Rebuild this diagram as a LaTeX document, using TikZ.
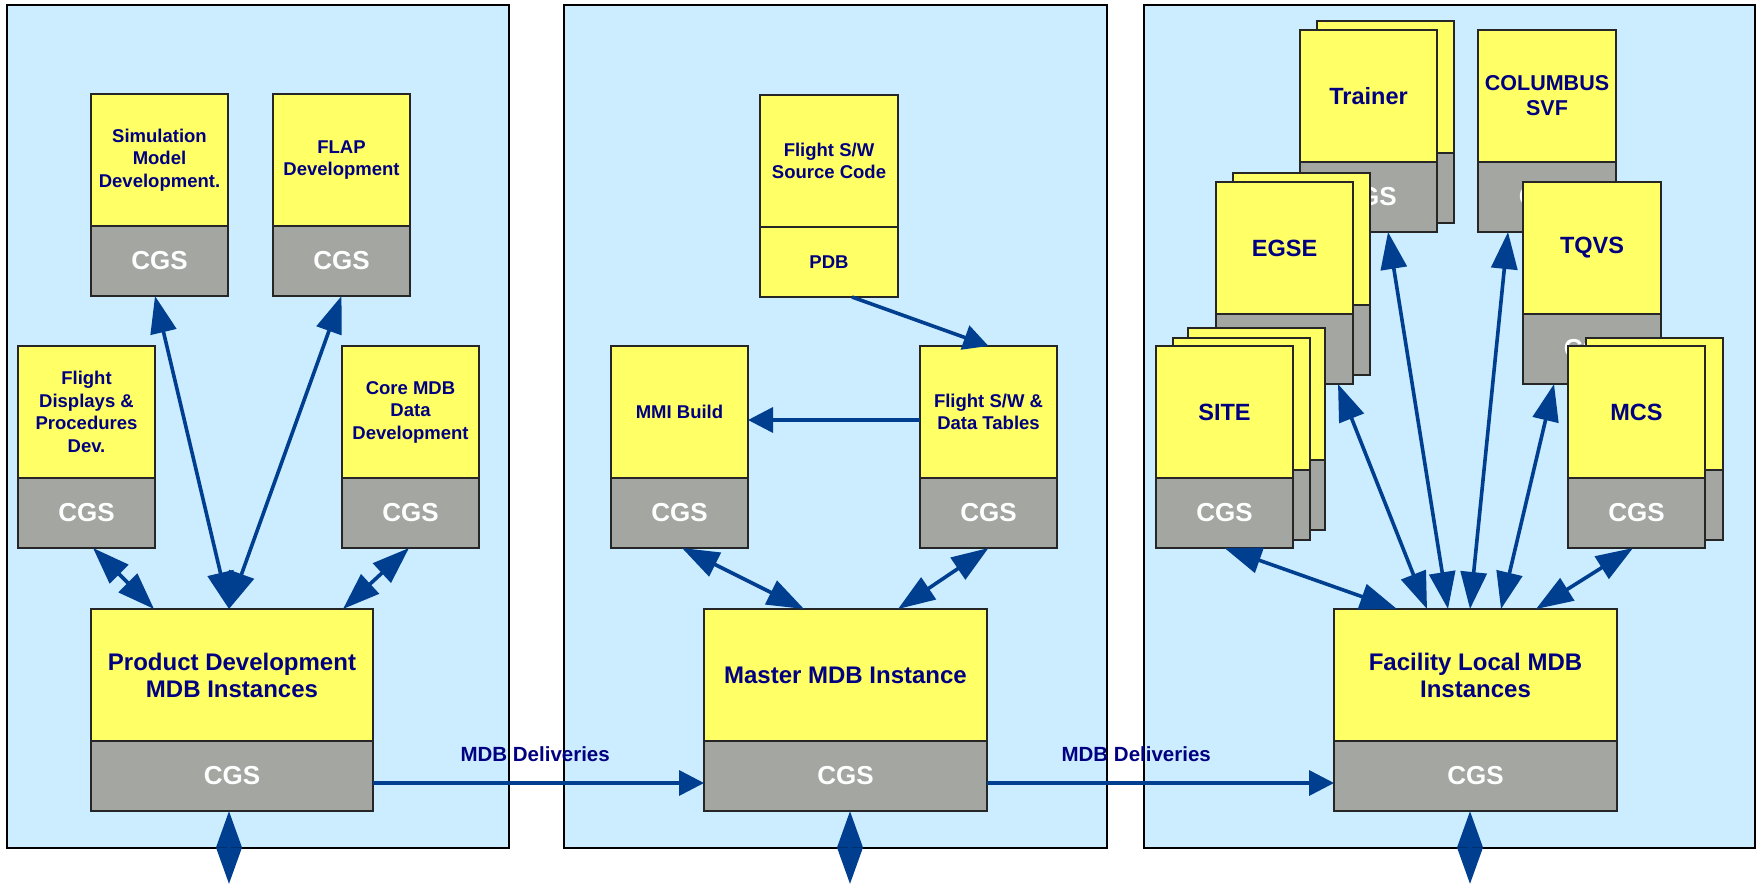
\documentclass[tikz,border=0pt]{standalone}
\usepackage{fontspec}
\setmainfont{Liberation Sans}
\usetikzlibrary{arrows.meta}
\definecolor{panelblue}{HTML}{CCECFF}
\definecolor{boxyellow}{HTML}{FFFF66}
\definecolor{boxgray}{HTML}{A3A6A1}
\definecolor{textnavy}{HTML}{000080}
\definecolor{arrowblue}{HTML}{003F8F}
\newcommand\fntS{\bfseries\fontsize{18.5}{22.5}\selectfont}
\newcommand\fntL{\bfseries\fontsize{24}{27}\selectfont}
\newcommand\fntF{\bfseries\fontsize{23.5}{27}\selectfont}
\newcommand\fntC{\bfseries\fontsize{21.5}{25}\selectfont}
\newcommand\fntD{\bfseries\fontsize{20.5}{24}\selectfont}
\tikzset{
  panel/.style={draw=black, line width=2pt, fill=panelblue, rectangle, inner sep=0pt, outer sep=0pt, anchor=north west},
  topbox/.style={draw=black!85, line width=1.2pt, fill=boxyellow, rectangle, inner sep=0pt, outer sep=0pt, minimum height=132pt, align=center, text=textnavy},
  cgsbox/.style={draw=black!85, line width=1.2pt, fill=boxgray, rectangle, inner sep=0pt, outer sep=0pt, minimum height=70pt, text=white, font=\bfseries\fontsize{26}{30}\selectfont},
  conn/.style={draw=arrowblue, fill=arrowblue, line width=3.6pt},
  dbl/.style={conn, arrows={Triangle[length=37pt,width=26pt]-Triangle[length=37pt,width=26pt]}},
  sgl/.style={conn, arrows={-Triangle[length=25pt,width=25pt]}},
  diam/.style={conn, arrows={Triangle[length=36.5pt,width=25pt]-Triangle[length=36.5pt,width=25pt]}},
  lbl/.style={text=textnavy, font=\fntD, inner sep=0pt},
}
% name, X, Y, W, font, text
\newcommand\unitbox[6]{%
  \node[topbox, font=#5, minimum width=#4pt, anchor=north west] (#1t) at (#2,#3) {#6};
  \node[cgsbox, minimum width=#4pt, anchor=north west] (#1b) at (#1t.south west) {CGS};}
% name, X, Y, W
\newcommand\ghostbox[4]{%
  \node[topbox, minimum width=#4pt, anchor=north west] (#1t) at (#2,#3) {};
  \node[cgsbox, minimum width=#4pt, anchor=north west] (#1b) at (#1t.south west) {};}
\begin{document}
\begin{tikzpicture}[x=1pt,y=-1pt]
\useasboundingbox (0,0) rectangle (1760,883);
\fill[white] (0,0) rectangle (1760,883);
% panels
\node[panel, minimum width=502pt, minimum height=843pt] (p1) at (7,5) {};
\node[panel, minimum width=543pt, minimum height=843pt] (p2) at (564,5) {};
\node[panel, minimum width=611pt, minimum height=843pt] (p3) at (1144,5) {};
% panel 1
\unitbox{sim}{91}{94}{137}{\fntS}{Simulation\\Model\\Development.}
\unitbox{flap}{273}{94}{137}{\fntS}{FLAP\\Development}
\unitbox{fd}{18}{346}{137}{\fntS}{Flight\\Displays \&\\Procedures\\Dev.}
\unitbox{core}{342}{346}{137}{\fntS}{Core MDB\\Data\\Development}
\unitbox{pd}{91}{609}{282}{\fntL}{Product Development\\MDB Instances}
% panel 2
\node[topbox, font=\fntS, minimum width=138pt, anchor=north west] (swt) at (760,95) {Flight S/W\\Source Code};
\node[topbox, font=\fntS, minimum width=138pt, minimum height=70pt, anchor=north west] (swb) at (swt.south west) {PDB};
\unitbox{mmi}{611}{346}{137}{\fntS}{MMI Build}
\unitbox{dt}{920}{346}{137}{\fntS}{Flight S/W \&\\Data Tables}
\unitbox{m}{704}{609}{283}{\fntL}{Master MDB Instance}
% panel 3
\ghostbox{trk}{1317}{21}{137}
\unitbox{tr}{1300}{30}{137}{\fntF}{Trainer}
\unitbox{col}{1478}{30}{138}{\fntC}{COLUMBUS\\SVF}
\ghostbox{egk}{1233}{173}{137}
\unitbox{egse}{1216}{182}{137}{\fntF}{EGSE}
\unitbox{tq}{1523}{182}{138}{\fntF}{TQVS}
\ghostbox{sitekk}{1188}{328}{137}
\ghostbox{sitek}{1173}{338}{137}
\unitbox{site}{1156}{346}{137}{\fntF}{SITE}
\ghostbox{mcsk}{1586}{338}{137}
\unitbox{mcs}{1568}{346}{137}{\fntF}{MCS}
\unitbox{f}{1334}{609}{283}{\fntL}{Facility Local MDB\\Instances}
% panel 1 connectors
\draw[dbl] ([xshift=6.5pt]fdb.south) -- ([xshift=63pt]pdt.north west);
\draw[dbl] ([xshift=-4.5pt]simb.south) -- ([xshift=-3pt]pdt.north);
\draw[dbl] (flapb.south) -- ([xshift=-3pt]pdt.north);
\draw[dbl] ([xshift=-1.5pt]coreb.south) -- ([xshift=-30pt]pdt.north east);
% panel 2 connectors
\draw[sgl] ([xshift=23pt]swb.south) -- (dtt.north);
\draw[sgl] ([yshift=-8pt]dtt.west) -- ([yshift=-8pt]mmit.east);
\draw[dbl] ([xshift=2.5pt]mmib.south) -- ([xshift=100pt]mt.north west);
\draw[dbl] (dtb.south) -- ([xshift=-89pt]mt.north east);
% deliveries
\draw[sgl] ([yshift=-7pt]pdb.east) -- node[lbl, pos=0.49, yshift=29pt] (lab1) {MDB Deliveries} ([yshift=-7pt]mb.west);
\draw[sgl] ([yshift=-7pt]mb.east) -- node[lbl, pos=0.43, yshift=29pt] (lab2) {MDB Deliveries} ([yshift=-7pt]fb.west);
% panel 3 connectors
\draw[dbl] (siteb.south) -- ([xshift=63pt]ft.north west);
\draw[dbl] ([xshift=53.5pt]egseb.south) -- ([xshift=93pt]ft.north west);
\draw[dbl] ([xshift=19.5pt]trb.south) -- ([xshift=114pt]ft.north west);
\draw[dbl] ([xshift=-39pt]colb.south) -- ([xshift=136pt]ft.north west);
\draw[dbl] ([xshift=-38pt]tqb.south) -- ([xshift=167pt]ft.north west);
\draw[dbl] ([xshift=-3.5pt]mcsb.south) -- ([xshift=202pt]ft.north west);
% outgoing links
\coordinate (pdout) at (229,884);
\coordinate (mout) at (850,884);
\coordinate (fout) at (1470,884);
\draw[diam] ([xshift=-3pt]pdb.south) -- (pdout);
\draw[diam] ([xshift=4.5pt]mb.south) -- (mout);
\draw[diam] ([xshift=-5.5pt]fb.south) -- (fout);
\end{tikzpicture}
\end{document}
